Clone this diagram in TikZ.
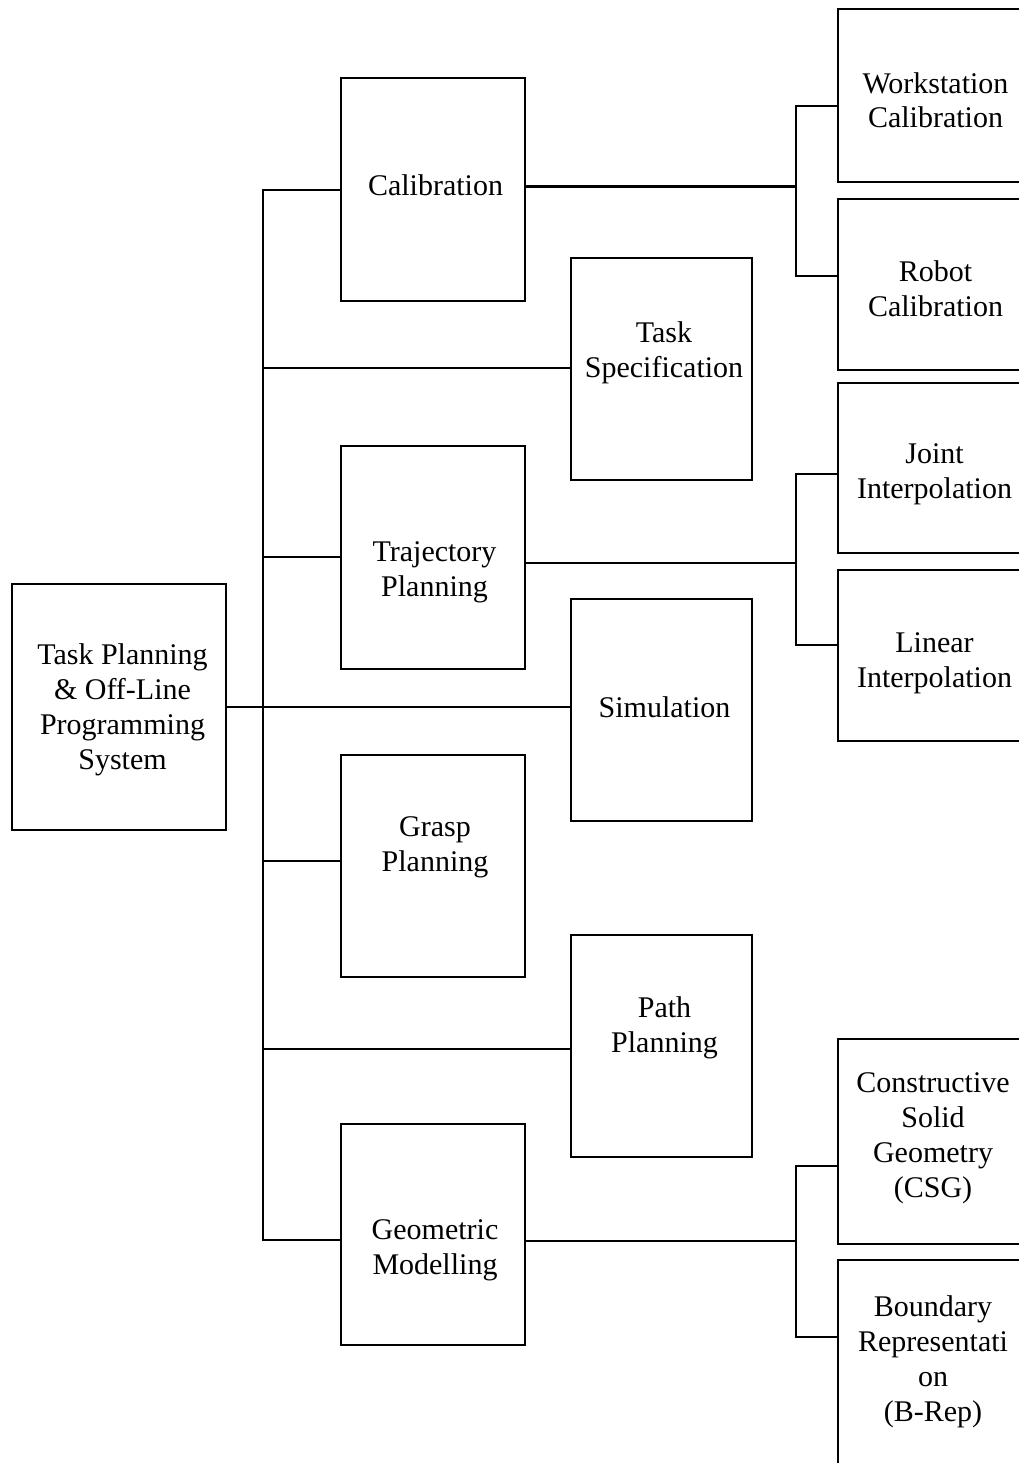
\documentclass[tikz,border=0pt]{standalone}
\usepackage{fontspec}
\setmainfont{Liberation Serif}
\begin{document}
\begin{tikzpicture}[x=1pt,y=-1pt,
  box/.style={draw=black, line width=2.8pt, rectangle, inner sep=0pt, fill=none},
  conn/.style={draw=black, line width=2.5pt, line cap=rect},
  lbl/.style={font=\fontsize{30}{34.7}\selectfont, align=center, anchor=base, inner sep=0pt}]
\useasboundingbox (0,0) rectangle (1019,1463);
\clip (0,0) rectangle (1019,1463);
\fill[white] (0,0) rectangle (1019,1463);

% boxes
\node[box, minimum width=214pt, minimum height=246pt] (TP) at (119,707) {};
\node[box, minimum width=184pt, minimum height=223pt] (Cal) at (433,189.5) {};
\node[box, minimum width=181pt, minimum height=222pt] (TS) at (661.5,369) {};
\node[box, minimum width=184pt, minimum height=223pt] (Traj) at (433,557.5) {};
\node[box, minimum width=181pt, minimum height=222pt] (Sim) at (661.5,710) {};
\node[box, minimum width=184pt, minimum height=222pt] (Grasp) at (433,866) {};
\node[box, minimum width=181pt, minimum height=222pt] (Path) at (661.5,1046) {};
\node[box, minimum width=184pt, minimum height=221pt] (Geo) at (433,1234.5) {};
\node[box, minimum width=200pt, minimum height=173pt] (WC) at (938,95.5) {};
\node[box, minimum width=200pt, minimum height=171pt] (RC) at (938,284.5) {};
\node[box, minimum width=200pt, minimum height=170pt] (JI) at (938,468) {};
\node[box, minimum width=200pt, minimum height=171pt] (LI) at (938,655.5) {};
\node[box, minimum width=200pt, minimum height=205pt] (CSG) at (938,1141.5) {};
\node[box, minimum width=200pt, minimum height=240pt] (BR) at (938,1380) {};

% labels (anchor = baseline of last line)
\node[lbl] (tTP) at (122.5,769) {Task Planning\\\& Off-Line\\Programming\\System};
\node[lbl] (tCal) at (435.5,196) {Calibration};
\node[lbl] (tTS) at (664,377) {Task\\Specification};
\node[lbl] (tTraj) at (434.5,596) {Trajectory\\Planning};
\node[lbl] (tSim) at (664.5,717) {Simulation};
\node[lbl] (tGrasp) at (435,871) {Grasp\\Planning};
\node[lbl] (tPath) at (664.5,1052) {Path\\Planning};
\node[lbl] (tGeo) at (435,1274) {Geometric\\Modelling};
\node[lbl] (tWC) at (935.5,128) {Workstation\\Calibration};
\node[lbl] (tRC) at (935.5,316) {Robot\\Calibration};
\node[lbl] (tJI) at (934.5,498) {Joint\\Interpolation};
\node[lbl] (tLI) at (934.5,687) {Linear\\Interpolation};
\node[lbl] (tCSG) at (933,1197) {Constructive\\Solid\\Geometry\\(CSG)};
\node[lbl] (tBR) at (933,1421) {Boundary\\Representati\\on\\(B-Rep)};

% left trunk
\coordinate (jTop) at (263,190);
\coordinate (jTS) at (263,368);
\coordinate (jTraj) at (263,557);
\coordinate (jGrasp) at (263,861);
\coordinate (jPath) at (263,1049);
\coordinate (jBot) at (263,1240);
\draw[conn] (jTop) -- (jBot);
\draw[conn] (TP.east) -- (TP.east -| Sim.west);
\draw[conn] (jTop) -- (jTop -| Cal.west);
\draw[conn] (jTS) -- (jTS -| TS.west);
\draw[conn] (jTraj) -- (jTraj -| Traj.west);
\draw[conn] (jGrasp) -- (jGrasp -| Grasp.west);
\draw[conn] (jPath) -- (jPath -| Path.west);
\draw[conn] (jBot) -- (jBot -| Geo.west);

% right branches: calibration
\coordinate (rCal) at (796,186.5);
\coordinate (rWC) at (796,106);
\coordinate (rRC) at (796,276);
\draw[conn] (rCal -| Cal.east) -- (rCal);
\draw[conn] (rWC) -- (rRC);
\draw[conn] (rWC) -- (rWC -| WC.west);
\draw[conn] (rRC) -- (rRC -| RC.west);

% right branches: trajectory
\coordinate (rTraj) at (796,563);
\coordinate (rJI) at (796,474);
\coordinate (rLI) at (796,645);
\draw[conn] (rTraj -| Traj.east) -- (rTraj);
\draw[conn] (rJI) -- (rLI);
\draw[conn] (rJI) -- (rJI -| JI.west);
\draw[conn] (rLI) -- (rLI -| LI.west);

% right branches: geometric
\coordinate (rGeo) at (796,1241);
\coordinate (rCSG) at (796,1166);
\coordinate (rBR) at (796,1337);
\draw[conn] (rGeo -| Geo.east) -- (rGeo);
\draw[conn] (rCSG) -- (rBR);
\draw[conn] (rCSG) -- (rCSG -| CSG.west);
\draw[conn] (rBR) -- (rBR -| BR.west);
\end{tikzpicture}
\end{document}
